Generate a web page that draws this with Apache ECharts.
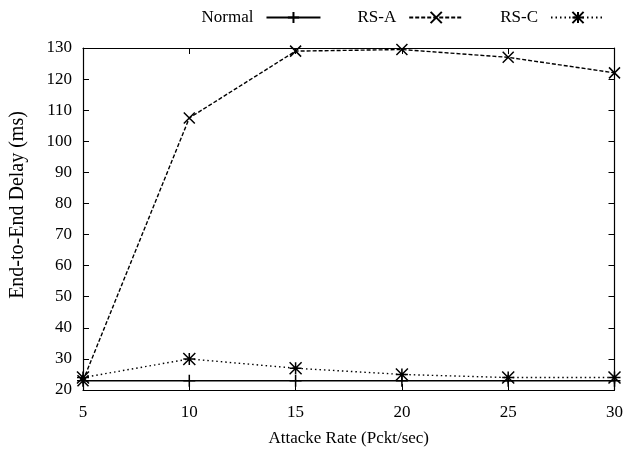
<!DOCTYPE html>
<html><head><meta charset="utf-8">
<script src="https://cdn.jsdelivr.net/npm/echarts@6/dist/echarts.min.js"></script>
<style>html,body{margin:0;padding:0;background:#fff}#c{width:626px;height:452px}</style>
</head><body><div id="c"></div>
<script>
const categories = [5, 10, 15, 20, 25, 30];
const normal = [23, 23, 23, 23, 23, 23];
const rsA = [23, 107.5, 129, 129.5, 127, 122];
const rsC = [24, 30, 27, 25, 24, 24];
const yTicks = [20, 30, 40, 50, 60, 70, 80, 90, 100, 110, 120, 130];

const F = 'Liberation Serif, Times New Roman, serif';
const plus = 'path://M0,5L10,5M5,0L5,10';
const cross = 'path://M0,0L10,10M10,0L0,10';
const star = 'path://M0,0L10,10M10,0L0,10M5,0L5,10M0,5L10,5';
const mk = (sym, size) => ({symbol: sym, symbolSize: size, itemStyle: {color: 'none', borderColor: '#000', borderWidth: 1.5}});

const chart = echarts.init(document.getElementById('c'), null, {renderer: 'canvas'});
const axisCommon = {
  axisLine: {show: true, lineStyle: {color: '#000', width: 1.2}},
  axisTick: {show: true, inside: true, length: 6, lineStyle: {color: '#000', width: 1}},
  splitLine: {show: false}
};
chart.setOption({
  animation: false,
  backgroundColor: '#fff',
  textStyle: {fontFamily: F},
  legend: {
    top: 4, right: 15, align: 'right', itemWidth: 54, itemHeight: 14, itemGap: 36,
    textStyle: {fontFamily: F, fontSize: 17, color: '#000', padding: [0, 8, 0, 0]},
    data: ['Normal', 'RS-A', 'RS-C']
  },
  grid: {left: 83, right: 11, top: 48, bottom: 61, containLabel: false},
  xAxis: [
    Object.assign({type: 'value', min: 5, max: 30, interval: 5, position: 'bottom',
      name: 'Attacke Rate (Pckt/sec)', nameLocation: 'middle', nameGap: 40,
      nameTextStyle: {fontFamily: F, fontSize: 17, color: '#000'},
      axisLabel: {fontFamily: F, fontSize: 17, color: '#000', margin: 14}}, axisCommon),
    Object.assign({type: 'value', min: 5, max: 30, interval: 5, position: 'top',
      axisLabel: {show: false}}, axisCommon)
  ],
  yAxis: [
    Object.assign({type: 'value', min: 20, max: 130, interval: 10, position: 'left',
      name: 'End-to-End Delay (ms)', nameLocation: 'middle', nameGap: 55,
      nameTextStyle: {fontFamily: F, fontSize: 20, color: '#000', padding: [0, 0, 0, 28]},
      axisLabel: {fontFamily: F, fontSize: 17, color: '#000', margin: 11,
        formatter: v => yTicks.includes(v) ? String(v) : ''}}, axisCommon),
    Object.assign({type: 'value', min: 20, max: 130, interval: 10, position: 'right',
      axisLabel: {show: false}}, axisCommon)
  ],
  series: [
    Object.assign({name: 'Normal', type: 'line', data: categories.map((x, i) => [x, normal[i]]),
      lineStyle: {color: '#000', width: 1.5, type: 'solid'}}, mk(plus, 12)),
    Object.assign({name: 'RS-A', type: 'line', data: categories.map((x, i) => [x, rsA[i]]),
      lineStyle: {color: '#000', width: 1.4, type: [4, 2]}}, mk(cross, 11)),
    Object.assign({name: 'RS-C', type: 'line', data: categories.map((x, i) => [x, rsC[i]]),
      lineStyle: {color: '#000', width: 1.4, type: [1.5, 3]}}, mk(star, 12))
  ]
});
</script></body></html>
